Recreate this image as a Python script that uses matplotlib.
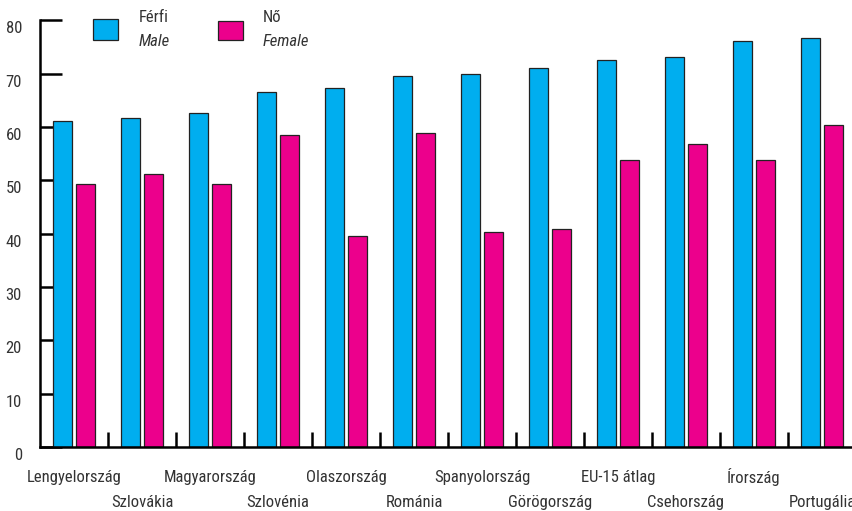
import numpy as np
from matplotlib import pyplot as plt
from matplotlib import font_manager
from matplotlib.patches import Rectangle
import matplotlib.transforms as mtransforms

# Data
countries = ['Lengyelország', 'Szlovákia', 'Magyarország', 'Szlovénia', 'Olaszország',
             'Románia', 'Spanyolország', 'Görögország', 'EU-15 átlag', 'Csehország',
             'Írország', 'Portugália']
male = [61.1, 61.6, 62.7, 66.6, 67.4, 69.6, 69.9, 71.1, 72.5, 73.1, 76.1, 76.6]
female = [49.3, 51.1, 49.4, 58.5, 39.6, 58.9, 40.3, 40.9, 53.9, 56.8, 53.9, 60.3]
y_ticks = [0, 10, 20, 30, 40, 50, 60, 70, 80]

male_color = '#00aeef'
female_color = '#ec008c'
text_color = '#333333'

# Pick a narrow font if one is installed
installed = {f.name for f in font_manager.fontManager.ttflist}
family = 'DejaVu Sans'
for name in ['Liberation Sans Narrow', 'Roboto Condensed', 'Open Sans Condensed']:
    if name in installed:
        family = name
        break
plt.rcParams['font.family'] = [family, 'DejaVu Sans']
plt.rcParams['font.size'] = 12

fig = plt.figure(figsize=(8.53, 5.11), dpi=100)
W, H = 853, 511
ax = fig.add_axes([40 / W, (H - 447) / H, 816 / W, 426.7 / H])

x = np.arange(len(countries))
ax.bar(x + 0.19, male, width=0.28, align='edge', color=male_color,
       edgecolor='#222222', linewidth=0.9, zorder=2)
ax.bar(x + 0.53, female, width=0.28, align='edge', color=female_color,
       edgecolor='#222222', linewidth=0.9, zorder=2)

ax.set_xlim(0, len(countries))
ax.set_ylim(0, 80)
ax.set_axisbelow(True)

for s in ['top', 'right']:
    ax.spines[s].set_visible(False)
ax.spines['left'].set_linewidth(1.8)
ax.spines['bottom'].set_linewidth(1.8)

# y axis: ticks pointing inwards, labels shifted a bit down
ax.set_yticks(y_ticks)
ax.tick_params(axis='y', direction='in', length=16, width=1.8, pad=13,
               labelsize=12, labelcolor=text_color)
offset = mtransforms.ScaledTranslation(0, -7 / 100, fig.dpi_scale_trans)
for lab in ax.get_yticklabels():
    lab.set_transform(lab.get_transform() + offset)

# x axis: ticks on category boundaries, labels staggered
ax.set_xticks(np.arange(1, len(countries)))
ax.set_xticklabels([])
ax.tick_params(axis='x', direction='in', length=11, width=1.8)
for i, name in enumerate(countries):
    dy = -30 if i % 2 == 0 else -55
    ax.annotate(name, xy=(i + 0.5, 0), xycoords='data', xytext=(0, dy * 0.72),
                textcoords='offset points', ha='center', va='center',
                color=text_color, fontsize=12, annotation_clip=False)

# legend drawn by hand in figure pixels
def fig_rect(x0, y0, x1, y1, color):
    fig.patches.append(Rectangle((x0 / W, 1 - y1 / H), (x1 - x0) / W, (y1 - y0) / H,
                                 transform=fig.transFigure, facecolor=color,
                                 edgecolor='#222222', linewidth=0.9))

fig_rect(93, 19, 118, 40, male_color)
fig_rect(218, 21, 243, 40, female_color)
fig.text(139 / W, 1 - 17 / H, 'Férfi', ha='left', va='center', color=text_color, fontsize=12)
fig.text(139 / W, 1 - 42 / H, 'Male', ha='left', va='center', color=text_color,
         fontsize=12, style='italic')
fig.text(263 / W, 1 - 17 / H, 'Nő', ha='left', va='center', color=text_color, fontsize=12)
fig.text(263 / W, 1 - 42 / H, 'Female', ha='left', va='center', color=text_color,
         fontsize=12, style='italic')

fig.savefig('out.png', dpi=100)
